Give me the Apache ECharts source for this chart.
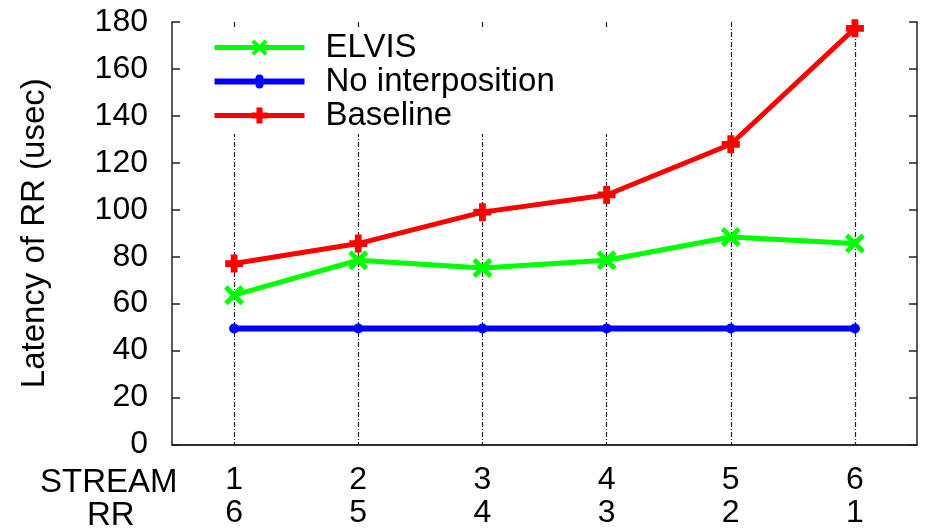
<!DOCTYPE html>
<html>
<head>
<meta charset="utf-8">
<script src="https://cdn.jsdelivr.net/npm/echarts@6/dist/echarts.min.js"></script>
<style>
html,body{margin:0;padding:0;background:#fff;}
#chart{width:926px;height:529px;}
</style>
</head>
<body>
<div id="chart"></div>
<script>
var streamLabels = ['1', '2', '3', '4', '5', '6'];
var rrLabels = ['6', '5', '4', '3', '2', '1'];
var elvis = [63.6, 78.5, 75.2, 78.5, 88.4, 85.6];
var noInterposition = [49.4, 49.4, 49.4, 49.4, 49.4, 49.4];
var baseline = [77.1, 85.6, 99.0, 106.3, 127.9, 177.3];
var yTicks = [0, 20, 40, 60, 80, 100, 120, 140, 160, 180];

var FONT = 'Liberation Sans, Arial, sans-serif';
var FS = 32;
var FS2 = 33;
var xPath = 'path://M0,3.5 L3.5,0 L10,6.5 L16.5,0 L20,3.5 L13.5,10 L20,16.5 L16.5,20 L10,13.5 L3.5,20 L0,16.5 L6.5,10 Z';
var plusPath = 'path://M5,0 L11,0 L11,5 L16,5 L16,11 L11,11 L11,16 L5,16 L5,11 L0,11 L0,5 L5,5 Z';
var bluePath = 'path://M0,0 L0.01,0 L0.01,0.01 Z M0,7 L41,7 A4,4 0 0 1 49,7 L90,7 L90,13 L49,13 A4,4 0 0 1 41,13 L0,13 Z M89.99,20 L90,20 L90,19.99 Z';

var chart = echarts.init(document.getElementById('chart'));
var axisColor = '#222';
var option = {
  animation: false,
  backgroundColor: '#fff',
  textStyle: {fontFamily: FONT},
  grid: {left: 172, top: 22, right: 9, bottom: 82, containLabel: false},
  legend: {
    orient: 'vertical',
    left: 205, top: 29,
    padding: [2, 60, 2, 7],
    backgroundColor: '#fff',
    itemWidth: 90, itemHeight: 20, itemGap: 1,
    textStyle: {fontFamily: FONT, fontSize: FS2, color: '#000', lineHeight: 30, padding: [0, 0, 0, 16]},
    data: [
      {name: 'ELVIS', lineStyle: {width: 5}},
      {name: 'No interposition', icon: bluePath},
      {name: 'Baseline', lineStyle: {width: 5}}
    ]
  },
  graphic: [
    {type: 'text', left: 40, top: 466, style: {text: 'STREAM', font: FS2 + 'px ' + FONT, fill: '#000'}},
    {type: 'text', left: 87, top: 499, style: {text: 'RR', font: FS2 + 'px ' + FONT, fill: '#000'}}
  ],
  xAxis: [{
    type: 'category', data: streamLabels, position: 'bottom', boundaryGap: true,
    axisLine: {lineStyle: {color: axisColor, width: 1.5}},
    axisTick: {inside: true, length: 8, alignWithLabel: true, lineStyle: {color: axisColor, width: 1.5}},
    axisLabel: {
      margin: 19, color: '#000',
      formatter: function (v, i) { return '{a|' + v + '}\n{a|' + rrLabels[i] + '}'; },
      rich: {a: {fontFamily: FONT, fontSize: FS, lineHeight: 33, color: '#000'}}
    },
    splitLine: {show: true, alignWithLabel: true, lineStyle: {color: '#222', width: 1.2, type: [5, 2, 1, 2]}}
  }, {
    type: 'category', data: streamLabels, position: 'top', boundaryGap: true,
    axisLine: {lineStyle: {color: axisColor, width: 1.5}},
    axisTick: {inside: true, length: 8, alignWithLabel: true, lineStyle: {color: axisColor, width: 1.5}},
    axisLabel: {show: false}, splitLine: {show: false}
  }],
  yAxis: [{
    type: 'value', min: yTicks[0], max: yTicks[yTicks.length - 1], interval: 20, position: 'left',
    name: 'Latency of RR (usec)', nameLocation: 'middle', nameGap: 121, nameRotate: 90,
    nameTextStyle: {fontFamily: FONT, fontSize: FS2, color: '#000'},
    axisLine: {show: true, lineStyle: {color: axisColor, width: 1.5}},
    axisTick: {show: true, inside: true, length: 8, lineStyle: {color: axisColor, width: 1.5}},
    axisLabel: {margin: 24, fontFamily: FONT, fontSize: FS, color: '#000'},
    splitLine: {show: false}
  }, {
    type: 'value', min: yTicks[0], max: yTicks[yTicks.length - 1], interval: 20, position: 'right',
    axisLine: {show: true, lineStyle: {color: axisColor, width: 1.5}},
    axisTick: {show: true, inside: true, length: 8, lineStyle: {color: axisColor, width: 1.5}},
    axisLabel: {show: false}, splitLine: {show: false}
  }],
  series: [{
    name: 'ELVIS', type: 'line', data: elvis, xAxisIndex: 0, yAxisIndex: 0, z: 4,
    symbol: xPath, symbolSize: 20, showAllSymbol: true,
    lineStyle: {color: '#00ff00', width: 5},
    itemStyle: {color: '#00ff00'}
  }, {
    name: 'No interposition', type: 'line', data: noInterposition, xAxisIndex: 0, yAxisIndex: 0, z: 3,
    symbol: 'circle', symbolSize: 10, showAllSymbol: true,
    lineStyle: {color: '#0000ff', width: 6},
    itemStyle: {color: '#0000ff'}
  }, {
    name: 'Baseline', type: 'line', data: baseline, xAxisIndex: 0, yAxisIndex: 0, z: 5,
    symbol: plusPath, symbolSize: 18, showAllSymbol: true,
    lineStyle: {color: '#ff0000', width: 5},
    itemStyle: {color: '#ff0000'}
  }]
};
chart.setOption(option);
</script>
</body>
</html>
